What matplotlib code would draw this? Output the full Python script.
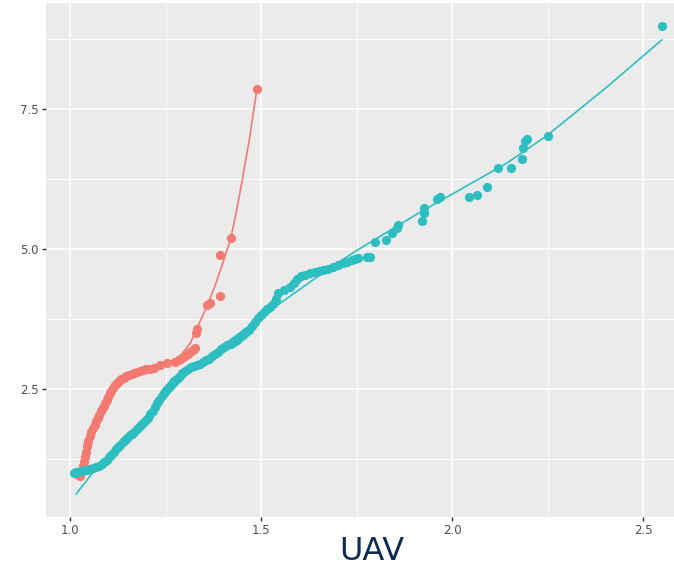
import numpy as np
import matplotlib.pyplot as plt

# points of the two groups
teal_x = [1.010, 1.015, 1.020, 1.028, 1.036, 1.044, 1.052, 1.060, 1.068, 1.076, 1.084, 1.090,
          1.096, 1.102, 1.108, 1.114, 1.120, 1.126, 1.132, 1.138, 1.144, 1.150, 1.156, 1.162,
          1.168, 1.174, 1.180, 1.186, 1.192, 1.198, 1.204, 1.210, 1.216, 1.222, 1.228, 1.234,
          1.240, 1.246, 1.252, 1.258, 1.264, 1.270, 1.276, 1.282, 1.288, 1.294, 1.300, 1.308,
          1.316, 1.324, 1.332, 1.340, 1.348, 1.356, 1.364, 1.372, 1.380, 1.388, 1.396, 1.404,
          1.412, 1.420, 1.428, 1.436, 1.444, 1.452, 1.460, 1.468, 1.476, 1.484, 1.492, 1.500,
          1.508, 1.516, 1.524, 1.532, 1.540, 1.545, 1.560, 1.576, 1.586, 1.595, 1.605, 1.615,
          1.628, 1.640, 1.652, 1.663, 1.676, 1.689, 1.702, 1.715, 1.726, 1.737, 1.746, 1.755,
          1.778, 1.786, 1.798, 1.827, 1.842, 1.855, 1.859, 1.920, 1.927, 1.927, 1.960, 1.969,
          2.045, 2.065, 2.091, 2.119, 2.154, 2.182, 2.187, 2.191, 2.196, 2.250, 2.549]
teal_y = [1.00, 1.01, 1.02, 1.04, 1.05, 1.06, 1.07, 1.09, 1.11, 1.13, 1.16, 1.19,
          1.23, 1.28, 1.32, 1.37, 1.42, 1.46, 1.50, 1.55, 1.59, 1.63, 1.67, 1.70,
          1.74, 1.78, 1.82, 1.86, 1.90, 1.94, 1.99, 2.05, 2.11, 2.18, 2.25, 2.31,
          2.37, 2.43, 2.48, 2.53, 2.57, 2.62, 2.66, 2.70, 2.74, 2.78, 2.82, 2.86,
          2.89, 2.91, 2.93, 2.95, 2.98, 3.01, 3.04, 3.08, 3.12, 3.16, 3.21, 3.25,
          3.28, 3.31, 3.34, 3.38, 3.42, 3.46, 3.51, 3.56, 3.62, 3.69, 3.76, 3.82,
          3.87, 3.92, 3.97, 4.02, 4.10, 4.21, 4.27, 4.32, 4.40, 4.46, 4.51, 4.54,
          4.57, 4.59, 4.61, 4.625, 4.65, 4.68, 4.71, 4.74, 4.77, 4.80, 4.82, 4.83,
          4.85, 4.86, 5.12, 5.16, 5.29, 5.37, 5.43, 5.49, 5.64, 5.73, 5.89, 5.92,
          5.92, 5.96, 6.11, 6.44, 6.44, 6.61, 6.80, 6.93, 6.96, 7.02, 8.98]

pink_x = [1.017, 1.022, 1.026, 1.030, 1.033, 1.036, 1.039, 1.042, 1.045, 1.048, 1.052, 1.056,
          1.060, 1.064, 1.068, 1.072, 1.076, 1.080, 1.084, 1.088, 1.092, 1.096, 1.100, 1.104,
          1.108, 1.112, 1.117, 1.122, 1.128, 1.134, 1.140, 1.147, 1.154, 1.161, 1.168, 1.176,
          1.184, 1.192, 1.200, 1.210, 1.220, 1.236, 1.253, 1.276, 1.284, 1.292, 1.300, 1.308,
          1.315, 1.322, 1.328, 1.330, 1.333, 1.358, 1.366, 1.392, 1.392, 1.421, 1.489]
pink_y = [1.00, 0.97, 0.95, 1.05, 1.12, 1.20, 1.29, 1.38, 1.48, 1.57, 1.66, 1.74,
          1.80, 1.86, 1.92, 1.98, 2.04, 2.10, 2.15, 2.20, 2.25, 2.30, 2.36, 2.42,
          2.47, 2.52, 2.57, 2.61, 2.65, 2.68, 2.70, 2.73, 2.75, 2.77, 2.79, 2.80,
          2.82, 2.84, 2.85, 2.86, 2.88, 2.93, 2.96, 2.99, 3.02, 3.06, 3.08, 3.12,
          3.16, 3.20, 3.23, 3.49, 3.57, 4.00, 4.03, 4.16, 4.89, 5.19, 7.85]

# fitted curves (knots)
teal_line_x = [1.016, 1.061, 1.10, 1.20, 1.30, 1.40, 1.50, 1.55, 1.68, 1.75, 1.92, 2.05, 2.143, 2.248, 2.40, 2.549]
teal_line_y = [0.625, 1.02, 1.30, 1.98, 2.72, 3.28, 3.78, 4.03, 4.66, 4.97, 5.67, 6.17, 6.53, 7.02, 7.86, 8.73]
pink_line_x = [1.020, 1.035, 1.05, 1.075, 1.10, 1.125, 1.15, 1.20, 1.25, 1.29, 1.315, 1.34, 1.36, 1.38, 1.40, 1.42, 1.435, 1.45, 1.47, 1.489]
pink_line_y = [0.95, 1.25, 1.60, 2.02, 2.33, 2.60, 2.72, 2.85, 2.95, 3.10, 3.32, 3.70, 4.00, 4.35, 4.75, 5.17, 5.65, 6.20, 6.98, 7.85]

pink = '#F37A70'
teal = '#2DBEC2'

fig = plt.figure(figsize=(6.74, 5.74), dpi=100)
ax = fig.add_axes([46 / 674, 57 / 574, 628 / 674, 514 / 574])
ax.set_facecolor('#EBEBEB')

ax.set_xticks([1.0, 1.5, 2.0, 2.5])
ax.set_xticks([1.25, 1.75, 2.25], minor=True)
ax.set_yticks([2.5, 5.0, 7.5])
ax.set_yticks([1.25, 3.75, 6.25, 8.75], minor=True)
ax.grid(which='major', color='white', linewidth=1.2)
ax.grid(which='minor', color='white', linewidth=0.6)
ax.set_axisbelow(True)
for s in ax.spines.values():
    s.set_visible(False)
ax.tick_params(which='major', length=3, width=1, color='#333333', labelsize=8.5,
               labelcolor='#4D4D4D', pad=2)
ax.tick_params(which='minor', length=0)

ax.plot(pink_line_x, pink_line_y, color=pink, linewidth=1.2, zorder=2)
ax.plot(teal_line_x, teal_line_y, color=teal, linewidth=1.2, zorder=2)
ax.scatter(pink_x, pink_y, s=44, color=pink, linewidths=0, zorder=3)
ax.scatter(teal_x, teal_y, s=44, color=teal, linewidths=0, zorder=3)

ax.set_xlim(0.937, 2.581)
ax.set_ylim(0.214, 9.39)

fig.text(372 / 674, 22 / 574, 'UAV', ha='center', va='center', fontsize=23, color='#0D2B55')

fig.savefig('out.png', dpi=100)
